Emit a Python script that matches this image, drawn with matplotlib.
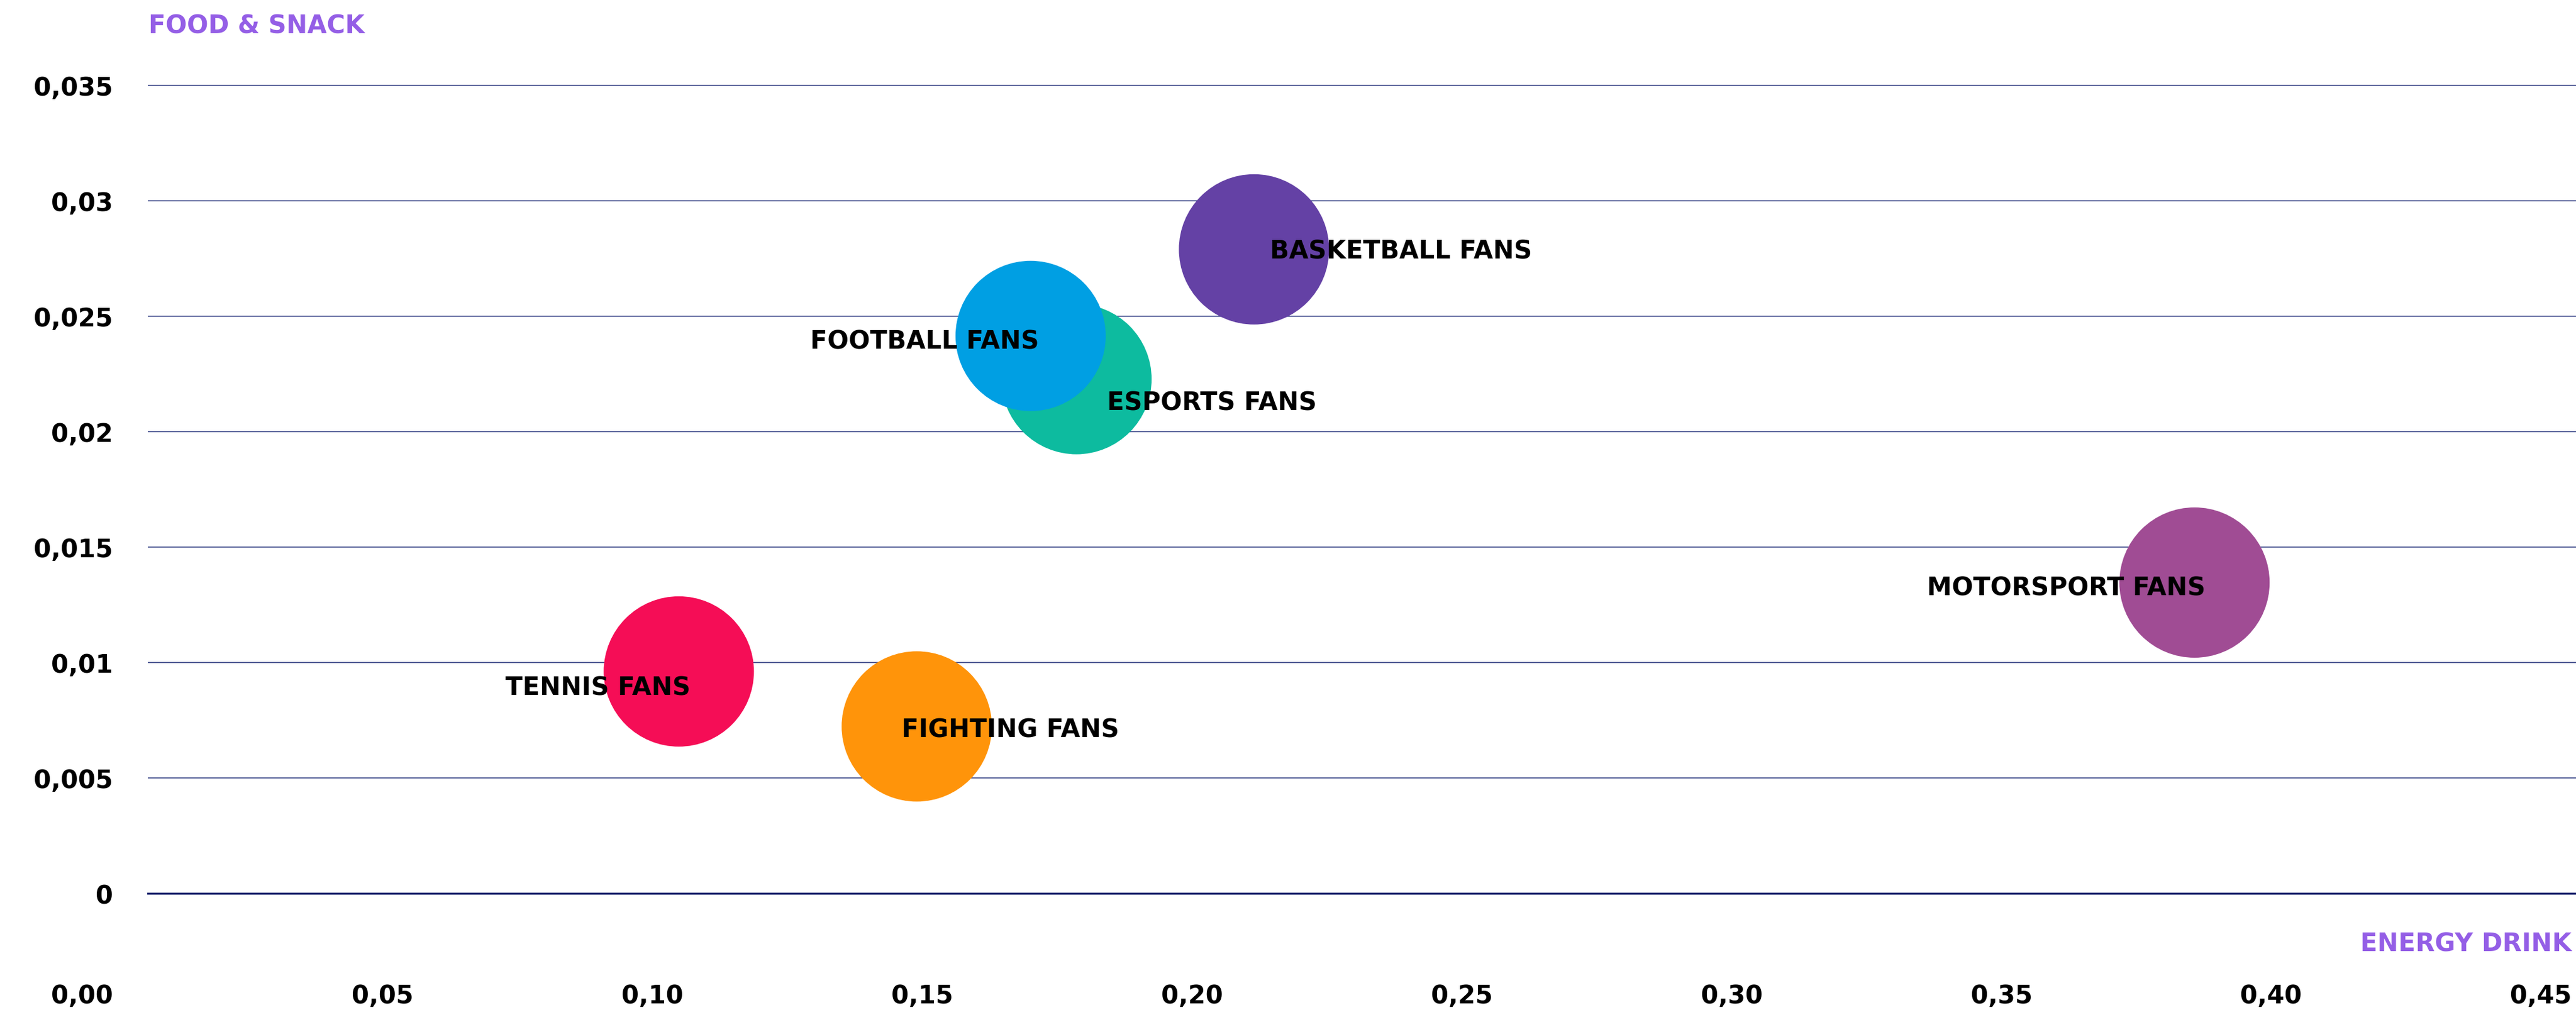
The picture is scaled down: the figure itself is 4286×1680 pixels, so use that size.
import matplotlib
matplotlib.use("Agg")
import matplotlib.pyplot as plt
from matplotlib.transforms import blended_transform_factory, ScaledTranslation

# data
groups = ["TENNIS FANS", "FIGHTING FANS", "ESPORTS FANS", "FOOTBALL FANS",
          "BASKETBALL FANS", "MOTORSPORT FANS"]
energy_drink = [0.0984, 0.1425, 0.1721, 0.1636, 0.2050, 0.3793]
food_snack = [0.00961, 0.00723, 0.02227, 0.02414, 0.02789, 0.01346]
colors = ["#F50D56", "#FF940A", "#0DBB9F", "#009FE3", "#6441A5", "#A04C94"]

x_ticks = [0.00, 0.05, 0.10, 0.15, 0.20, 0.25, 0.30, 0.35, 0.40, 0.45]
x_tick_labels = ["0,00", "0,05", "0,10", "0,15", "0,20", "0,25", "0,30", "0,35", "0,40", "0,45"]
y_ticks = [0, 0.005, 0.01, 0.015, 0.02, 0.025, 0.03, 0.035]
y_tick_labels = ["0", "0,005", "0,01", "0,015", "0,02", "0,025", "0,03", "0,035"]

# label placement (ha, dx, dy in points)
label_pos = {
    "TENNIS FANS": ("right", 14, -19),
    "FIGHTING FANS": ("left", -18, -4),
    "ESPORTS FANS": ("left", 37, -28),
    "FOOTBALL FANS": ("right", 10, -6),
    "BASKETBALL FANS": ("left", 19, -2),
    "MOTORSPORT FANS": ("right", 13, -6),
}

plt.rcParams["font.family"] = ["DejaVu Sans"]
FS = 30
PURPLE = "#945EE6"

fig = plt.figure(figsize=(42.86, 16.81), dpi=100)
ax = fig.add_axes([246 / 4286, (1681 - 1487) / 1681, 1 - 246 / 4286, (1487 - 135) / 1681])
ax.set_xlim(0, 0.45)
ax.set_ylim(0, 0.0352)

for v in y_ticks:
    if v == 0:
        ax.axhline(v, color="#16206B", linewidth=2.4, zorder=1, clip_on=False)
    else:
        ax.axhline(v, color="#3A4588", linewidth=1.2, zorder=1)

ax.scatter(energy_drink, food_snack, s=32400, c=colors, linewidths=0, zorder=2, clip_on=False)

for name, x, y in zip(groups, energy_drink, food_snack):
    ha, dx, dy = label_pos[name]
    ax.annotate(name, (x, y), xytext=(dx, dy), textcoords="offset points",
                ha=ha, va="center", fontsize=FS, fontweight="bold", color="black", zorder=3)

for s in ax.spines.values():
    s.set_visible(False)
ax.set_xticks([])
ax.set_yticks(y_ticks)
ax.set_yticklabels(y_tick_labels, fontsize=FS, fontweight="bold")
ax.tick_params(axis="y", length=0, pad=42)

# x tick labels sit right-aligned just left of their ticks
trans = blended_transform_factory(ax.transData, ax.transAxes)
for i, (v, lab) in enumerate(zip(x_ticks, x_tick_labels)):
    dx = -42 / 72 if i == 0 else -5 / 72
    t = trans + ScaledTranslation(dx, 0, fig.dpi_scale_trans)
    ax.text(v, -0.1257, lab, transform=t, ha="right", va="center",
            fontsize=FS, fontweight="bold", clip_on=False)

fig.text(247 / 4286, 1 - 43 / 1681, "FOOD & SNACK", ha="left", va="center",
         fontsize=FS, fontweight="bold", color=PURPLE)
fig.text(4279 / 4286, 1 - 1571 / 1681, "ENERGY DRINK", ha="right", va="center",
         fontsize=FS, fontweight="bold", color=PURPLE)

fig.savefig("out.png", dpi=100)
